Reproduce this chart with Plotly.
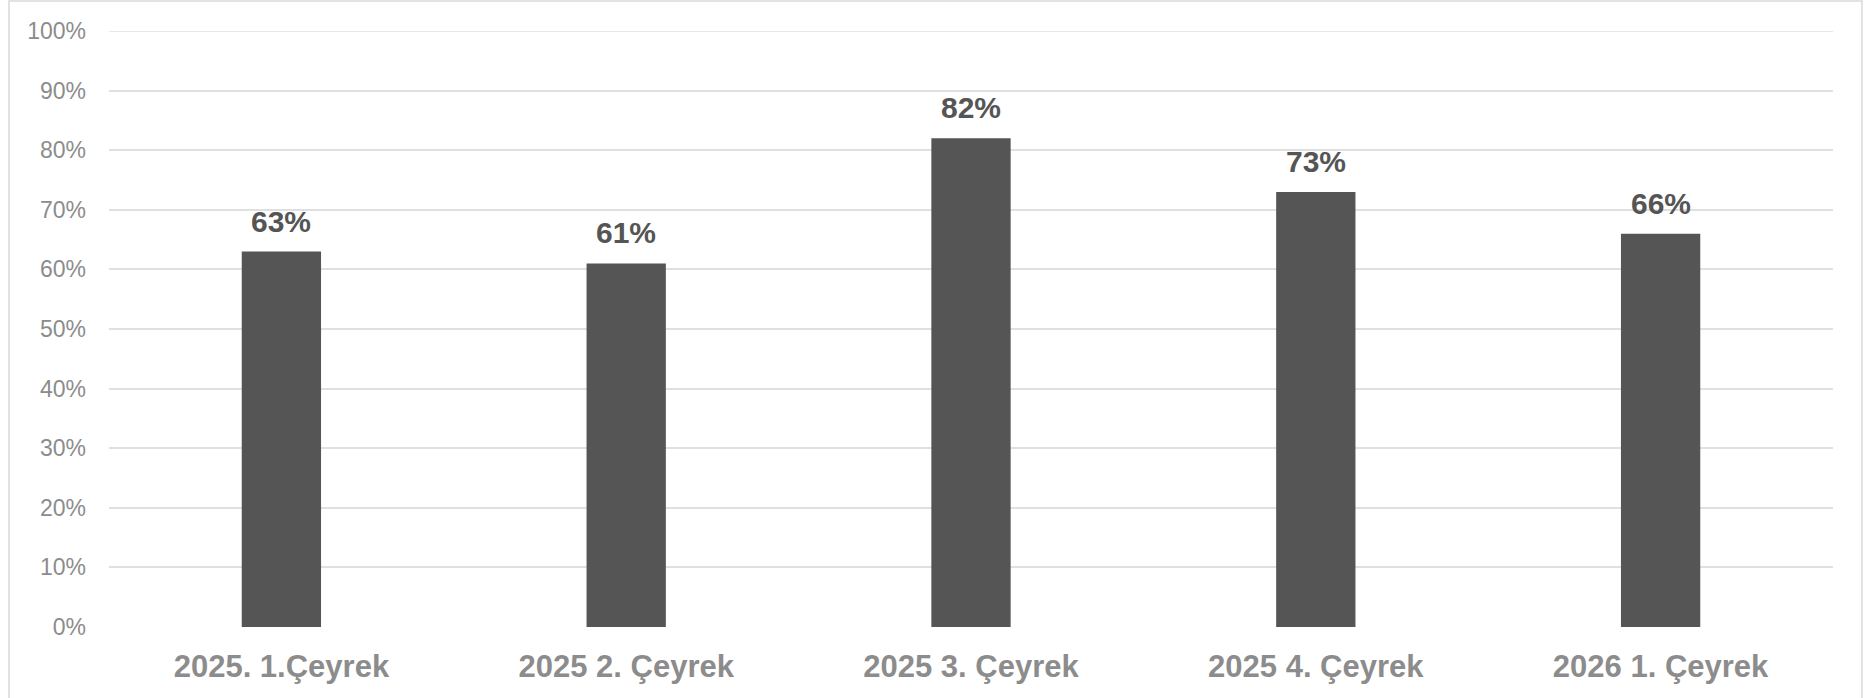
import plotly.graph_objects as go

quarters = ["2025. 1.Çeyrek", "2025 2. Çeyrek", "2025 3. Çeyrek", "2025 4. Çeyrek", "2026 1. Çeyrek"]
shares = [0.63, 0.61, 0.82, 0.73, 0.66]
tick_vals = [i / 10 for i in range(11)]
tick_text = [f"{i * 10}%" for i in range(11)]

FONT = "Liberation Sans, Arial"

fig = go.Figure()
fig.add_trace(
    go.Bar(
        x=quarters, y=shares,
        marker=dict(color="#555555", line=dict(width=0)),
        hoverinfo="skip",
    )
)

# value labels above the bars
for q, v in zip(quarters, shares):
    fig.add_annotation(
        x=q, y=v, text=f"<b>{round(v * 100)}%</b>",
        showarrow=False, yanchor="bottom", yshift=12,
        font=dict(size=30, color="#555555", family=FONT),
    )

# light outer frame
fig.add_shape(
    type="rect", xref="paper", yref="paper",
    x0=-0.058, x1=1.0168, y0=-0.3, y1=1.0503,
    line=dict(color="#d9d9d9", width=1.5), fillcolor="rgba(0,0,0,0)",
    layer="below",
)

fig.update_layout(
    width=1866, height=698,
    margin=dict(l=109, r=33, t=31, b=71),
    paper_bgcolor="white", plot_bgcolor="white",
    bargap=0.77,
    showlegend=False,
    font=dict(family=FONT),
    xaxis=dict(
        showgrid=False, showline=False, zeroline=False, ticks="",
        ticklabelstandoff=18,
        tickfont=dict(size=31, color="#8c8c8c", family=FONT),
        tickprefix="<b>", ticksuffix="</b>",
    ),
    yaxis=dict(
        range=[0, 1.0], tickvals=tick_vals, ticktext=tick_text,
        showgrid=True, gridcolor="#e0e0e0", gridwidth=1.5,
        zeroline=False, showline=False, ticks="",
        ticklabelstandoff=22,
        tickfont=dict(size=23, color="#8c8c8c", family=FONT),
    ),
)
# top gridline at 100% sits on the plot edge; draw it explicitly
fig.add_hline(y=tick_vals[-1], line=dict(color="#e0e0e0", width=1.5), layer="below")

# drop the default 8px body margin so the figure fills the window
fig.write_html(
    "out.html",
    config={"displayModeBar": False},
    post_script="document.body.style.margin='0';",
)
